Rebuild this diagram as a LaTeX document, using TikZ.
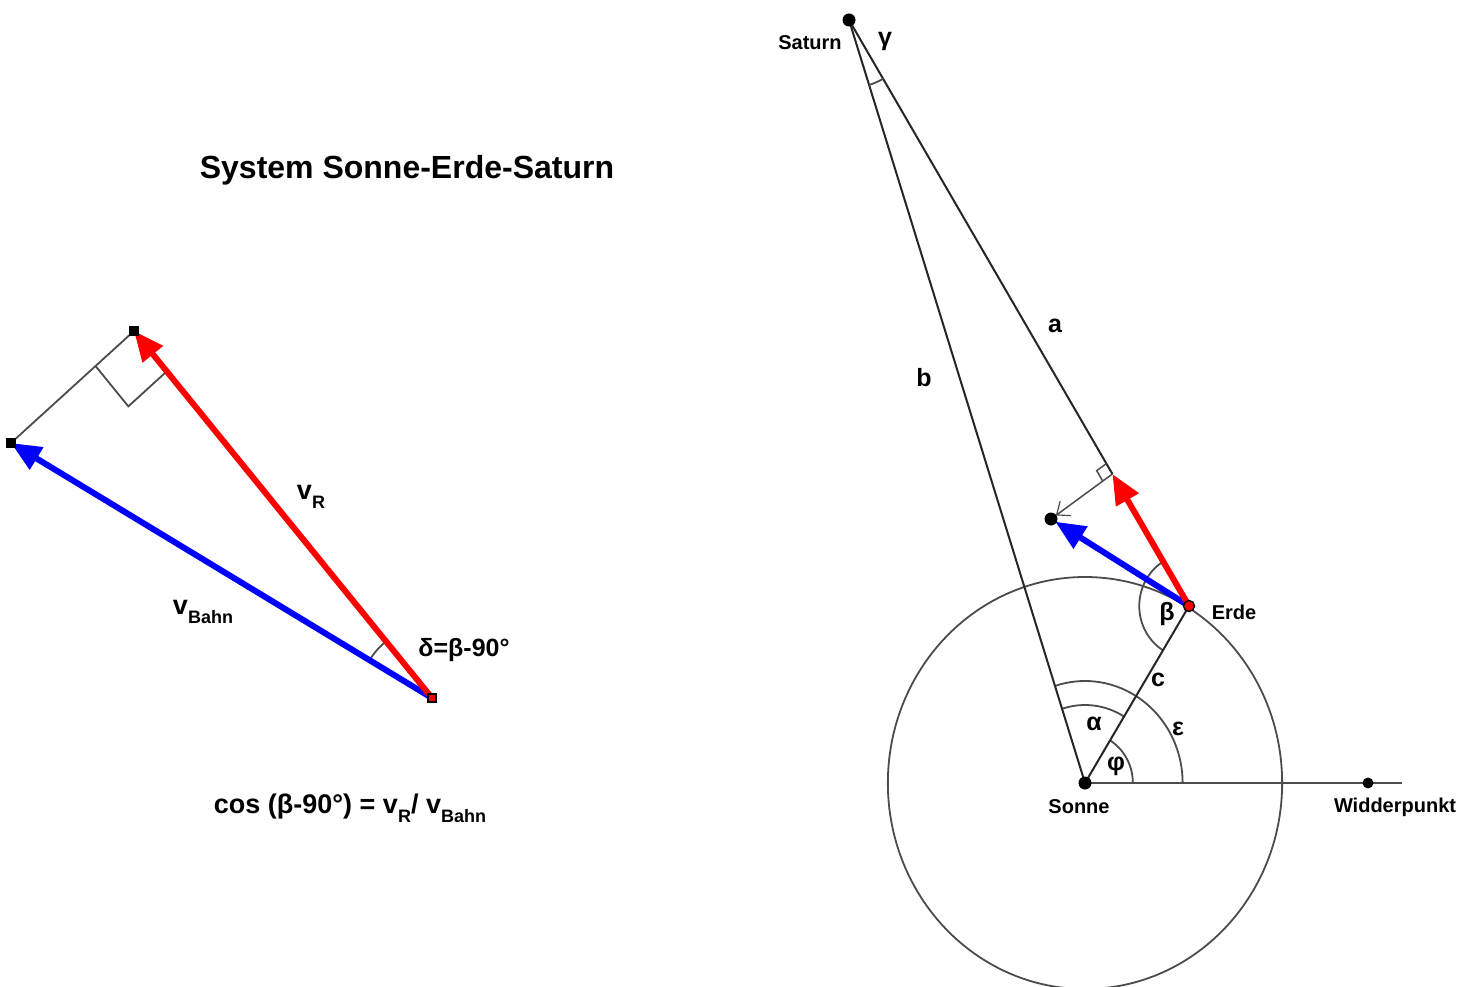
\documentclass[tikz,border=0pt]{standalone}
\usepackage{fontspec}
\setmainfont{Liberation Sans}
\usetikzlibrary{arrows.meta,calc}
\newcommand\lowtxt[2]{\raisebox{-0.32em}{\fontsize{#1}{#1}\selectfont #2}}
\begin{document}
\begin{tikzpicture}[x=1pt,y=-1pt,
  darkline/.style={draw=black!85, line width=2pt},
  grayline/.style={draw=black!70, line width=1.8pt},
  redarrow/.style={draw=red, line width=6pt, -{Triangle[length=30pt,width=25pt]}},
  bluearrow/.style={draw=blue, line width=6pt, -{Triangle[length=30pt,width=25pt]}},
  sqmark/.style={draw=black, fill=black, minimum size=8pt, inner sep=0pt, line width=1.2pt},
  dotmark/.style={circle, fill=black, minimum size=13pt, inner sep=0pt},
  lbl/.style={font=\bfseries\fontsize{20}{22}\selectfont, inner sep=0pt},
  glbl/.style={font=\bfseries\fontsize{25}{27}\selectfont, inner sep=0pt},
]
\fill[white] (0,0) rectangle (1459,987);
\useasboundingbox (0,0) rectangle (1459,987);

% ---------- coordinates ----------
\coordinate (O) at (432,698);
\coordinate (RT) at (134,331);
\coordinate (BT) at (11,443);
\coordinate (S) at (849,20);
\coordinate (Su) at (1085,783);
\coordinate (E) at (1189,606);
\coordinate (W) at (1368,783);
\coordinate (Wend) at (1402,783);
\coordinate (R2) at ($(S)!0.7747!(E)$);
\coordinate (B2) at (1051,519);

% ---------- title ----------
\node[font=\bfseries\fontsize{32}{34}\selectfont, inner sep=0pt] (title) at (407,170) {System Sonne-Erde-Saturn};

% ---------- left figure ----------
\draw[grayline] (BT) -- (RT);
\coordinate (m1) at ($(RT)!52pt!(BT)$);
\coordinate (m2) at ($(RT)!52pt!(O)$);
\draw[grayline] (m1) -- ($(m1)+(m2)-(RT)$) -- (m2);
\draw[grayline] ($(O)+(-148.8:73)$) arc[start angle=-148.8,end angle=-129.1,radius=73];
\draw[bluearrow] (O) -- (BT);
\draw[redarrow] (O) -- (RT);
\node[sqmark] (rtm) at (RT) {};
\node[sqmark] (btm) at (BT) {};
\node[sqmark, fill=red] (om) at (O) {};

\node[font=\bfseries\fontsize{27}{29}\selectfont, inner sep=0pt] (vr) at (311,497) {v\lowtxt{18}{R}};
\node[font=\bfseries\fontsize{27}{29}\selectfont, inner sep=0pt] (vb) at (203,612) {v\lowtxt{18}{Bahn}};
\node[font=\bfseries\fontsize{25}{27}\selectfont, inner sep=0pt] (delta) at (464,650) {δ=β-90°};
\node[font=\bfseries\fontsize{27}{29}\selectfont, inner sep=0pt] (formula) at (350,808) {cos (β-90°) = v\lowtxt{18}{R}/ v\lowtxt{18}{Bahn}};

% ---------- right figure ----------
\begin{scope}[shift={(Su)}, xscale=0.957]
  \draw[grayline] (0,0) circle[radius=206];
  \draw[grayline] (0:50) arc[start angle=0,end angle=-58.45,radius=50];
  \draw[grayline] (-58.45:78) arc[start angle=-58.45,end angle=-107.9,radius=78];
  \draw[grayline] (0:102) arc[start angle=0,end angle=-107.9,radius=102];
\end{scope}
\begin{scope}[shift={(E)}, xscale=0.957]
  \draw[grayline] (121.55:52) arc[start angle=121.55,end angle=238.8,radius=52];
\end{scope}
\draw[darkline] (S) -- (Su);
\draw[darkline] (S) -- (R2);
\draw[darkline] (Su) -- (E);
\draw[grayline] (Su) -- (Wend);
\begin{scope}[shift={(S)}]
  \draw[grayline] (72.8:68) arc[start angle=72.8,end angle=59.9,radius=68];
\end{scope}
\coordinate (q1) at ($(R2)!12pt!(S)$);
\coordinate (q2) at ($(R2)!12pt!(B2)$);
\draw[grayline, line width=1.5pt] (q1) -- ($(q1)+(q2)-(R2)$) -- (q2);
\draw[grayline, line width=1.5pt, shorten >=6pt, -{Straight Barb[length=11pt,width=18pt,line width=1.2pt]}] (R2) -- (B2);
\draw[bluearrow, shorten >=5pt] (E) -- (B2);
\draw[redarrow] (E) -- (R2);

\node[dotmark] (sat) at (S) {};
\node[dotmark] (sun) at (Su) {};
\node[dotmark, minimum size=11pt] (widder) at (W) {};
\node[dotmark] (bt2) at (B2) {};
\node[circle, draw=black, fill=red, line width=1.4pt, minimum size=11pt, inner sep=0pt] (earth) at (E) {};

\node[lbl] (lsat) at (810,43) {Saturn};
\node[glbl] (lgamma) at (885,41) {γ};
\node[glbl] (la) at (1055,326) {a};
\node[glbl] (lb) at (924,378) {b};
\node[glbl] (lbeta) at (1167,614) {β};
\node[lbl] (lerde) at (1234,612) {Erde};
\node[glbl] (lc) at (1158,680) {c};
\node[glbl] (lalpha) at (1094,724) {α};
\node[glbl] (lphi) at (1116,766) {φ};
\node[glbl] (leps) at (1178,729) {ε};
\node[lbl] (lsonne) at (1079,807) {Sonne};
\node[lbl] (lwidder) at (1395,807) {Widderpunkt};
\end{tikzpicture}
\end{document}
